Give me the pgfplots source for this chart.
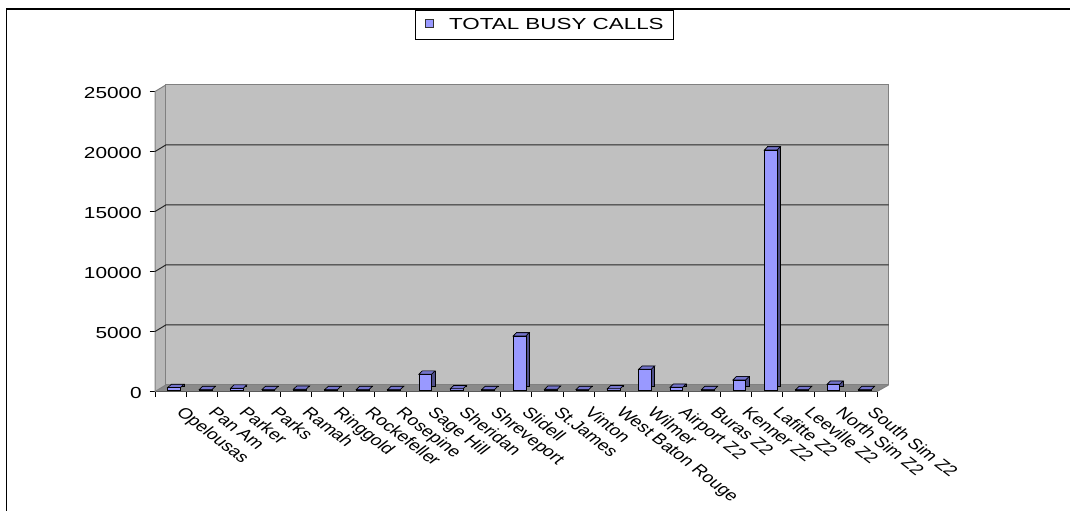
\documentclass[border=0pt]{standalone}
\usepackage{fontspec}
\setmainfont{Liberation Sans}
\newfontfamily\yfont{Liberation Sans}[FakeStretch=1.3]
\newfontfamily\lfont{Liberation Sans}[FakeStretch=1.4]
\usepackage{pgfplots}
\usepackage{pgfplotstable}
\pgfplotsset{compat=1.18}
\definecolor{barfill}{HTML}{9999FF}
\definecolor{barside}{HTML}{4F4F8A}
\definecolor{bartop}{HTML}{7474CC}
\definecolor{wallgray}{HTML}{C0C0C0}
\definecolor{sidegray}{HTML}{B8B8B8}
\definecolor{floorgray}{HTML}{8A8A8A}
\definecolor{edgegray}{HTML}{808080}
\pgfdeclareplotmark{topface}{%
  \pgfpathmoveto{\pgfqpoint{-6.35bp}{0bp}}%
  \pgfpathlineto{\pgfqpoint{6.35bp}{0bp}}%
  \pgfpathlineto{\pgfqpoint{9.75bp}{3.3bp}}%
  \pgfpathlineto{\pgfqpoint{-2.95bp}{3.3bp}}%
  \pgfpathclose
  \pgfusepathqfillstroke}
\pgfplotstableread{
x v
0.5 200
1.5 30
2.5 150
3.5 30
4.5 60
5.5 30
6.5 30
7.5 30
8.5 1320
9.5 100
10.5 30
11.5 4500
12.5 60
13.5 30
14.5 100
15.5 1730
16.5 230
17.5 30
18.5 840
19.5 20000
20.5 30
21.5 480
22.5 30
}\busy
\begin{document}
\begin{tikzpicture}
\useasboundingbox (0,0) rectangle (1070bp,511bp);
\draw[line width=1.5bp] (6.5bp,-20bp) -- (6.5bp,502bp) -- (1090bp,502bp);
\begin{axis}[
  at={(155bp,119.5bp)}, anchor=south west,
  scale only axis, width=722bp, height=300bp,
  xmin=0, xmax=23, ymin=0, ymax=25000,
  clip=false,
  axis lines*=left,
  axis line style={black, line width=1bp},
  tick align=outside,
  major tick length=0bp,
  minor tick length=5.5bp,
  tick style={black, line width=1bp},
  ytick={0,5000,10000,15000,20000,25000},
  minor ytick={0,5000,10000,15000,20000,25000},
  xtick={0.5,1.5,...,22.5},
  minor xtick={0,1,...,23},
  xticklabels={Opelousas,Pan Am,Parker,Parks,Ramah,Ringgold,Rockefeller,Rosepine,Sage Hill,Sheridan,Shreveport,Slidell,St.James,Vinton,West Baton Rouge,Wilmer,Airport Z2,Buras Z2,Kenner Z2,Lafitte Z2,Leeville Z2,North Sim Z2,South Sim Z2},
  scaled y ticks=false,
  yticklabel style={/pgf/number format/1000 sep={}, /pgf/number format/assume math mode=true,
    font={\yfont\fontsize{16bp}{18bp}\selectfont}, anchor=east, inner sep=0pt, xshift=-13bp, yshift=-1.5bp},
  xticklabel style={font={\fontsize{15bp}{17bp}\selectfont}, anchor=north west, inner sep=0pt,
    xshift=15bp, yshift=-14bp, xscale=1.3, rotate=-45},
  legend style={at={(axis description cs:0.5395,1.2217)}, anchor=center, draw=black, line width=1bp,
    fill=white, font={\lfont\fontsize{16bp}{18bp}\selectfont}, inner xsep=9.8bp, inner ysep=8.6bp,
    nodes={inner sep=0pt}, cells={anchor=west}},
  legend image code/.code={\draw[fill=barfill, draw=black!80, line width=0.8bp] (0bp,-3.65bp) rectangle (7.3bp,3.65bp); \path (23bp,0bp);},
]
% floor
\fill[floorgray] (axis cs:0,0) -- (axis cs:23,0) -- ([xshift=11.5bp,yshift=6.5bp]axis cs:23,0) -- ([xshift=10.8bp,yshift=6.5bp]axis cs:0,0) -- cycle;
% left wall
\filldraw[fill=sidegray, draw=edgegray, line width=1bp] (axis cs:0,0) -- (axis cs:0,25000) -- ([xshift=10.8bp,yshift=6.5bp]axis cs:0,25000) -- ([xshift=10.8bp,yshift=6.5bp]axis cs:0,0) -- cycle;
% back wall
\filldraw[fill=wallgray, draw=edgegray, line width=1bp] ([xshift=10.8bp,yshift=6.5bp]axis cs:0,0) rectangle ([xshift=11.5bp,yshift=6.5bp]axis cs:23,25000);
\draw[edgegray, line width=1bp] (axis cs:23,0) -- ([xshift=11.5bp,yshift=6.5bp]axis cs:23,0);
% gridlines
\pgfplotsinvokeforeach{5000,10000,15000,20000}{
  \draw[black!85, line width=1bp] (axis cs:0,#1) -- ([xshift=10.8bp,yshift=6.5bp]axis cs:0,#1) -- ([xshift=11.5bp,yshift=6.5bp]axis cs:23,#1);
}
% bars: side (back copy), front face, top face
\addplot[ybar, bar width=12.7bp, bar shift=0pt, fill=barside, draw=black, line width=0.7bp, xshift=6.9bp, yshift=4.8bp, forget plot] table[x=x,y=v]{\busy};
\addplot[ybar, bar width=12.7bp, bar shift=0pt, fill=barfill, draw=black, line width=0.7bp, xshift=3.5bp, yshift=1.5bp] table[x=x,y=v]{\busy};
\addlegendentry{TOTAL BUSY CALLS}
\addplot[only marks, mark=topface, mark options={fill=bartop, draw=black, line width=0.7bp}, xshift=3.5bp, yshift=1.5bp, forget plot] table[x=x,y=v]{\busy};
\end{axis}
\end{tikzpicture}
\end{document}
